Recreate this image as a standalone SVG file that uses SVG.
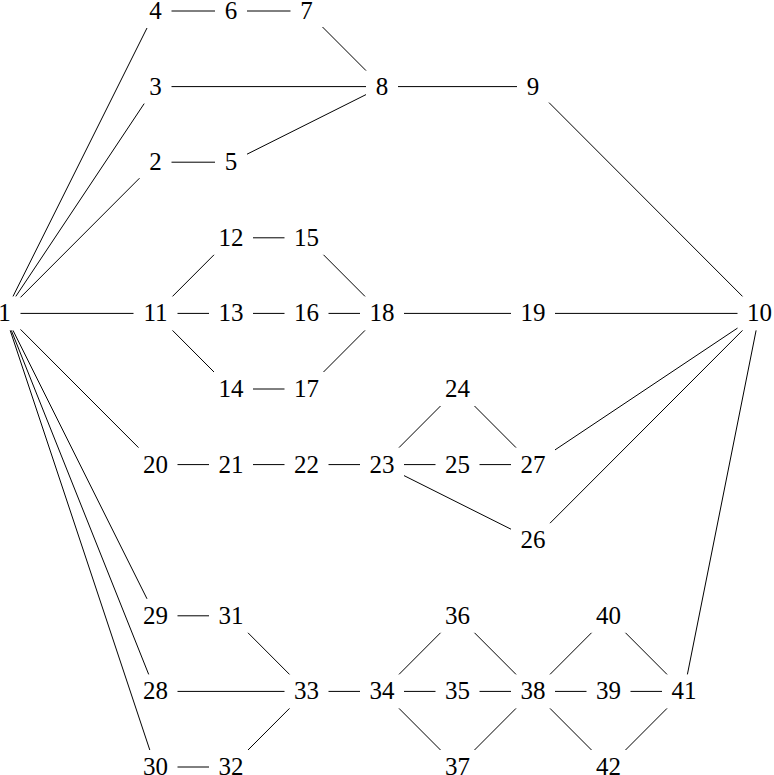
<svg xmlns="http://www.w3.org/2000/svg" width="774" height="775" viewBox="0 0 774 775">
<style>
.lbl text{font-family:'Liberation Serif','DejaVu Serif',serif;font-size:25px;text-anchor:middle;fill:#000}
#edges line{stroke:#000;stroke-width:1;fill:none}
</style>
<rect width="774" height="775" fill="#fff"/>
<g id="edges">
<line x1="13" y1="296.4" x2="147" y2="28"/>
<line x1="15.8" y1="296.4" x2="144.2" y2="103.6"/>
<line x1="20.5" y1="297.4" x2="139.5" y2="178.2"/>
<line x1="20.5" y1="313.4" x2="133.5" y2="313.4"/>
<line x1="20.5" y1="329.4" x2="138.5" y2="447.6"/>
<line x1="13" y1="330.4" x2="147" y2="598.8"/>
<line x1="11.3" y1="330.4" x2="148.7" y2="674.4"/>
<line x1="10.2" y1="330.4" x2="149.8" y2="750"/>
<line x1="171.5" y1="11" x2="215" y2="11"/>
<line x1="247" y1="11" x2="290.5" y2="11"/>
<line x1="322.5" y1="27" x2="366" y2="70.6"/>
<line x1="171.5" y1="86.6" x2="366" y2="86.6"/>
<line x1="171.5" y1="162.2" x2="215" y2="162.2"/>
<line x1="247" y1="154.2" x2="366" y2="94.6"/>
<line x1="398" y1="86.6" x2="517" y2="86.6"/>
<line x1="549" y1="102.6" x2="742.5" y2="296.4"/>
<line x1="172.5" y1="296.4" x2="214" y2="254.8"/>
<line x1="177.5" y1="313.4" x2="209" y2="313.4"/>
<line x1="172.5" y1="330.4" x2="214" y2="372"/>
<line x1="253" y1="237.8" x2="284.5" y2="237.8"/>
<line x1="253" y1="313.4" x2="284.5" y2="313.4"/>
<line x1="253" y1="389" x2="284.5" y2="389"/>
<line x1="323.5" y1="254.8" x2="365" y2="296.4"/>
<line x1="328.5" y1="313.4" x2="360" y2="313.4"/>
<line x1="323.5" y1="372" x2="365" y2="330.4"/>
<line x1="404" y1="313.4" x2="511" y2="313.4"/>
<line x1="555" y1="313.4" x2="737.5" y2="313.4"/>
<line x1="177.5" y1="464.6" x2="209" y2="464.6"/>
<line x1="253" y1="464.6" x2="284.5" y2="464.6"/>
<line x1="328.5" y1="464.6" x2="360" y2="464.6"/>
<line x1="399" y1="447.6" x2="440.5" y2="406"/>
<line x1="404" y1="464.6" x2="435.5" y2="464.6"/>
<line x1="404" y1="475.6" x2="511" y2="529.2"/>
<line x1="474.5" y1="406" x2="516" y2="447.6"/>
<line x1="479.5" y1="464.6" x2="511" y2="464.6"/>
<line x1="555" y1="449.9" x2="737.5" y2="328.1"/>
<line x1="550" y1="523.2" x2="742.5" y2="330.4"/>
<line x1="177.5" y1="615.8" x2="209" y2="615.8"/>
<line x1="248" y1="632.8" x2="289.5" y2="674.4"/>
<line x1="177.5" y1="691.4" x2="284.5" y2="691.4"/>
<line x1="177.5" y1="767" x2="209" y2="767"/>
<line x1="248" y1="750" x2="289.5" y2="708.4"/>
<line x1="328.5" y1="691.4" x2="360" y2="691.4"/>
<line x1="399" y1="674.4" x2="440.5" y2="632.8"/>
<line x1="404" y1="691.4" x2="435.5" y2="691.4"/>
<line x1="399" y1="708.4" x2="440.5" y2="750"/>
<line x1="474.5" y1="632.8" x2="516" y2="674.4"/>
<line x1="479.5" y1="691.4" x2="511" y2="691.4"/>
<line x1="474.5" y1="750" x2="516" y2="708.4"/>
<line x1="550" y1="674.4" x2="591.5" y2="632.8"/>
<line x1="555" y1="691.4" x2="586.5" y2="691.4"/>
<line x1="550" y1="708.4" x2="591.5" y2="750"/>
<line x1="625.5" y1="632.8" x2="667" y2="674.4"/>
<line x1="630.5" y1="691.4" x2="662" y2="691.4"/>
<line x1="625.5" y1="750" x2="667" y2="708.4"/>
<line x1="687.4" y1="674.4" x2="756.1" y2="330.4"/>
</g>
<g class="lbl" font-family="Liberation Serif, DejaVu Serif, serif" font-size="25">
<g id="n1"><text x="4.5" y="321.4">1</text></g>
<g id="n2"><text x="155.5" y="170.2">2</text></g>
<g id="n3"><text x="155.5" y="94.6">3</text></g>
<g id="n4"><text x="155.5" y="19">4</text></g>
<g id="n5"><text x="231" y="170.2">5</text></g>
<g id="n6"><text x="231" y="19">6</text></g>
<g id="n7"><text x="306.5" y="19">7</text></g>
<g id="n8"><text x="382" y="94.6">8</text></g>
<g id="n9"><text x="533" y="94.6">9</text></g>
<g id="n10"><text x="759.5" y="321.4">10</text></g>
<g id="n11"><text x="155.5" y="321.4">11</text></g>
<g id="n12"><text x="231" y="245.8">12</text></g>
<g id="n13"><text x="231" y="321.4">13</text></g>
<g id="n14"><text x="231" y="397">14</text></g>
<g id="n15"><text x="306.5" y="245.8">15</text></g>
<g id="n16"><text x="306.5" y="321.4">16</text></g>
<g id="n17"><text x="306.5" y="397">17</text></g>
<g id="n18"><text x="382" y="321.4">18</text></g>
<g id="n19"><text x="533" y="321.4">19</text></g>
<g id="n20"><text x="155.5" y="472.6">20</text></g>
<g id="n21"><text x="231" y="472.6">21</text></g>
<g id="n22"><text x="306.5" y="472.6">22</text></g>
<g id="n23"><text x="382" y="472.6">23</text></g>
<g id="n24"><text x="457.5" y="397">24</text></g>
<g id="n25"><text x="457.5" y="472.6">25</text></g>
<g id="n26"><text x="533" y="548.2">26</text></g>
<g id="n27"><text x="533" y="472.6">27</text></g>
<g id="n28"><text x="155.5" y="699.4">28</text></g>
<g id="n29"><text x="155.5" y="623.8">29</text></g>
<g id="n30"><text x="155.5" y="775">30</text></g>
<g id="n31"><text x="231" y="623.8">31</text></g>
<g id="n32"><text x="231" y="775">32</text></g>
<g id="n33"><text x="306.5" y="699.4">33</text></g>
<g id="n34"><text x="382" y="699.4">34</text></g>
<g id="n35"><text x="457.5" y="699.4">35</text></g>
<g id="n36"><text x="457.5" y="623.8">36</text></g>
<g id="n37"><text x="457.5" y="775">37</text></g>
<g id="n38"><text x="533" y="699.4">38</text></g>
<g id="n39"><text x="608.5" y="699.4">39</text></g>
<g id="n40"><text x="608.5" y="623.8">40</text></g>
<g id="n41"><text x="684" y="699.4">41</text></g>
<g id="n42"><text x="608.5" y="775">42</text></g>
</g>
</svg>
